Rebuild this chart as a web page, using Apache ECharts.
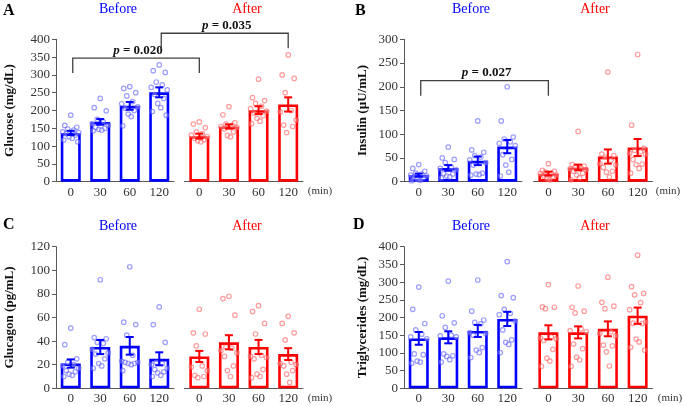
<!DOCTYPE html>
<html>
<head>
<meta charset="utf-8">
<script src="https://cdn.jsdelivr.net/npm/echarts/dist/echarts.min.js"></script>
<style>
  html, body { margin: 0; padding: 0; background: #fff; }
  #chart { width: 685px; height: 406px; }
</style>
</head>
<body>
<div id="chart"></div>
<script>
const times = ['0', '30', '60', '120'];

// Glucose (mg/dL)
const gluBeforeMean = [137, 168, 213, 251];
const gluBeforeSem = [6, 8, 11, 14];
const gluAfterMean = [128, 155, 201, 217];
const gluAfterSem = [7, 6, 11, 20];
const gluBeforePts = [
  [187, 158, 153, 148, 145, 140, 138, 135, 131, 126, 122, 117, 112],
  [234, 208, 199, 175, 168, 163, 158, 153, 150, 147, 145, 143],
  [267, 262, 250, 241, 225, 219, 210, 206, 200, 190, 183, 157],
  [328, 312, 307, 280, 272, 265, 258, 245, 234, 220, 208, 197, 187]
];
const gluAfterPts = [
  [168, 162, 152, 140, 135, 131, 127, 122, 118, 115, 112],
  [211, 188, 165, 162, 158, 155, 152, 148, 140, 130, 126],
  [288, 236, 228, 220, 212, 205, 198, 193, 185, 178, 170, 163],
  [356, 300, 290, 250, 200, 196, 173, 159, 155, 138]
];

// Insulin (µU/mL)
const insBeforeMean = [14, 29, 44, 74];
const insBeforeSem = [3, 6, 9, 14];
const insAfterMean = [17, 30, 53, 72];
const insAfterSem = [4, 6, 15, 18];
const insBeforePts = [
  [36, 28, 22, 18, 16, 14, 12, 10, 8, 5, 3, 2],
  [73, 50, 47, 40, 30, 28, 25, 17, 16, 12, 10, 8],
  [128, 67, 62, 55, 52, 46, 40, 35, 18, 16, 15, 14],
  [200, 128, 94, 90, 84, 81, 76, 57, 47, 35, 20, 12]
];
const insAfterPts = [
  [38, 24, 22, 20, 18, 17, 14, 12, 10, 6, 4],
  [106, 36, 33, 30, 28, 27, 25, 22, 18, 14, 8, 4],
  [231, 58, 55, 52, 45, 38, 35, 30, 22, 20, 10],
  [268, 119, 70, 66, 63, 60, 58, 47, 37, 36, 28, 18]
];

// Glucagon (pg/mL)
const gcgBeforeMean = [21, 35, 36, 25];
const gcgBeforeSem = [3.5, 6, 7.5, 5.5];
const gcgAfterMean = [27, 39, 35, 29];
const gcgAfterSem = [4.7, 6, 6, 5];
const gcgBeforePts = [
  [51, 37, 25, 22, 20, 19, 17, 15, 14, 12, 11, 10],
  [92, 43, 42, 39, 38, 33, 30, 29, 25, 21, 19, 17],
  [103, 56, 54, 45, 28, 23, 22, 22, 21, 21, 20, 15],
  [69, 54, 39, 22, 21, 20, 17, 16, 14, 13, 11, 10]
];
const gcgAfterPts = [
  [67, 47, 46, 36, 19, 18, 15, 11, 10, 9],
  [78, 76, 62, 35, 34, 32, 30, 27, 19, 15, 10],
  [70, 65, 55, 46, 28, 27, 26, 25, 16, 12, 10, 9],
  [61, 55, 47, 41, 22, 21, 20, 19, 15, 12, 5]
];

// Triglycerides (mg/dL)
const tgBeforeMean = [141, 144, 162, 196];
const tgBeforeSem = [18, 17, 17, 20];
const tgAfterMean = [158, 158, 168, 205];
const tgAfterSem = [20, 17, 21, 23];
const tgBeforePts = [
  [286, 223, 183, 165, 153, 145, 140, 97, 95, 77, 74, 71],
  [303, 205, 185, 172, 150, 148, 145, 97, 92, 90, 81, 74],
  [306, 218, 193, 186, 182, 157, 155, 150, 115, 108, 101, 87],
  [358, 262, 256, 223, 212, 208, 190, 165, 137, 130, 124, 101]
];
const tgAfterPts = [
  [293, 230, 229, 225, 145, 142, 140, 135, 110, 85, 77, 62],
  [289, 229, 218, 213, 168, 163, 160, 125, 112, 88, 80, 62],
  [314, 243, 232, 225, 160, 155, 148, 122, 120, 103, 63],
  [376, 287, 268, 264, 242, 222, 187, 184, 183, 139, 131, 116, 108]
];

// significance brackets: [panel, category, top value, left leg end, right leg end, p]
const brackets = [
  [0, 0, 347, 305, 305, '0.020'],
  [0, 3, 417, 373, 375, '0.035'],
  [1, 0, 213, 181, 181, '0.027']
];

const SERIF = '"Liberation Serif", "Times New Roman", serif';
const BLUE = '#0000ff';
const RED = '#ff0000';
const AXIS = '#595959';
const TXT = '#333';

const panels = [
  { letter: 'A', name: 'Glucose (mg/dL)', max: 400, interval: 50,
    data: [[gluBeforeMean, gluBeforeSem, gluBeforePts], [gluAfterMean, gluAfterSem, gluAfterPts]],
    top: 39.3, height: 142.4, lefts: [56, 184.5], widths: [118, 118.5], nameGap: 40,
    letterPos: [3, 11], heads: [[118, 9], [247, 9]], minPos: [320, 191] },
  { letter: 'B', name: 'Insulin (µU/mL)', max: 300, interval: 50,
    data: [[insBeforeMean, insBeforeSem, insBeforePts], [insAfterMean, insAfterSem, insAfterPts]],
    top: 39.3, height: 142.4, lefts: [404, 533.5], widths: [118, 119], nameGap: 35,
    letterPos: [355, 11], heads: [[471, 9], [595, 9]], minPos: [668, 191] },
  { letter: 'C', name: 'Glucagon (pg/mL)', max: 120, interval: 20,
    data: [[gcgBeforeMean, gcgBeforeSem, gcgBeforePts], [gcgAfterMean, gcgAfterSem, gcgAfterPts]],
    top: 246.7, height: 141.6, lefts: [56, 184.5], widths: [118, 118.5], nameGap: 40,
    letterPos: [3, 225], heads: [[118, 226], [247, 226]], minPos: [320, 398] },
  { letter: 'D', name: 'Triglycerides (mg/dL)', max: 400, interval: 50,
    data: [[tgBeforeMean, tgBeforeSem, tgBeforePts], [tgAfterMean, tgAfterSem, tgAfterPts]],
    top: 246.7, height: 141.6, lefts: [404, 533.5], widths: [118, 119], nameGap: 35,
    letterPos: [353, 225], heads: [[471, 226], [595, 226]], minPos: [670, 398] }
];

// horizontal spread of dots inside a group (px), by rank
const spread = [0, -6, 6, -3, 3, -8, 8, -4.5, 4.5, -1.5, 1.5, -7, 7];

let grids = [], xAxes = [], yAxes = [], series = [];

panels.forEach((p, k) => {
  [0, 1].forEach((s) => {
    const gi = k * 2 + s;
    const col = s === 0 ? BLUE : RED;
    const dot = s === 0 ? 'rgba(80,80,255,0.7)' : 'rgba(255,80,80,0.7)';
    const [mean, sem, pts] = p.data[s];
    grids.push({ left: p.lefts[s], top: p.top, width: p.widths[s], height: p.height });
    xAxes.push({
      type: 'category', gridIndex: gi, data: times,
      axisLine: { lineStyle: { color: AXIS, width: 1 } },
      axisTick: { length: 5, lineStyle: { color: AXIS } },
      axisLabel: { fontFamily: SERIF, fontSize: 13, color: TXT, margin: 4 }
    });
    yAxes.push({
      type: 'value', gridIndex: gi, min: 0, max: p.max, interval: p.interval,
      name: s === 0 ? p.name : '',
      nameLocation: 'middle', nameGap: p.nameGap,
      nameTextStyle: { fontFamily: SERIF, fontSize: 13, fontWeight: 'bold', color: '#111' },
      axisLine: { show: s === 0, lineStyle: { color: AXIS, width: 1 } },
      axisTick: { show: s === 0, length: 4, lineStyle: { color: AXIS } },
      axisLabel: { show: s === 0, fontFamily: SERIF, fontSize: 13, color: TXT, margin: 6 },
      splitLine: { show: false }
    });
    series.push({
      type: 'bar', xAxisIndex: gi, yAxisIndex: gi, data: mean, barWidth: 20,
      itemStyle: { color: '#fff', borderColor: col, borderWidth: 2.6 },
      silent: true, z: 2
    });
    let dots = [];
    pts.forEach((arr, i) => {
      arr.forEach((v, j) => {
        dots.push({ value: [i, v], symbolOffset: [spread[j % spread.length], 0] });
      });
    });
    series.push({
      type: 'scatter', xAxisIndex: gi, yAxisIndex: gi, data: dots,
      symbol: 'circle', symbolSize: 4.5,
      itemStyle: { color: 'rgba(255,255,255,0.4)', borderColor: dot, borderWidth: 1.2 },
      silent: true, z: 3
    });
    series.push({
      type: 'custom', xAxisIndex: gi, yAxisIndex: gi,
      data: mean.map((m, i) => [i, m, sem[i]]),
      encode: { x: 0, y: 1 },
      renderItem: function (params, api) {
        const x = api.value(0), m = api.value(1), e = api.value(2);
        const hi = api.coord([x, m + e]);
        const lo = api.coord([x, m - e]);
        const w = 4;
        const st = { stroke: col, lineWidth: 2 };
        return { type: 'group', children: [
          { type: 'line', shape: { x1: hi[0], y1: hi[1], x2: lo[0], y2: lo[1] }, style: st },
          { type: 'line', shape: { x1: hi[0] - w, y1: hi[1], x2: hi[0] + w, y2: hi[1] }, style: st },
          { type: 'line', shape: { x1: lo[0] - w, y1: lo[1], x2: lo[0] + w, y2: lo[1] }, style: st }
        ] };
      },
      silent: true, z: 4
    });
  });
});

const chart = echarts.init(document.getElementById('chart'), null, { renderer: 'canvas' });
chart.setOption({
  animation: false,
  backgroundColor: '#fff',
  grid: grids, xAxis: xAxes, yAxis: yAxes, series: series
});

// annotations
let graphic = [];
panels.forEach((p) => {
  graphic.push({ type: 'text', x: p.letterPos[0], y: p.letterPos[1],
    style: { text: p.letter, font: 'bold 16px ' + SERIF, fill: '#000', textVerticalAlign: 'middle' } });
  graphic.push({ type: 'text', x: p.heads[0][0], y: p.heads[0][1],
    style: { text: 'Before', font: '14px ' + SERIF, fill: BLUE, textAlign: 'center', textVerticalAlign: 'middle' } });
  graphic.push({ type: 'text', x: p.heads[1][0], y: p.heads[1][1],
    style: { text: 'After', font: '14px ' + SERIF, fill: RED, textAlign: 'center', textVerticalAlign: 'middle' } });
  graphic.push({ type: 'text', x: p.minPos[0], y: p.minPos[1],
    style: { text: '(min)', font: '11px ' + SERIF, fill: TXT, textAlign: 'center', textVerticalAlign: 'middle' } });
});

brackets.forEach(([k, cat, top, legL, legR, pv]) => {
  const g0 = k * 2, g1 = k * 2 + 1;
  const a = chart.convertToPixel({ xAxisIndex: g0, yAxisIndex: g0 }, [cat, top]);
  const aL = chart.convertToPixel({ xAxisIndex: g0, yAxisIndex: g0 }, [cat, legL]);
  const b = chart.convertToPixel({ xAxisIndex: g1, yAxisIndex: g1 }, [cat, top]);
  const bL = chart.convertToPixel({ xAxisIndex: g1, yAxisIndex: g1 }, [cat, legR]);
  graphic.push({ type: 'polyline',
    shape: { points: [[aL[0] + 2, aL[1]], [a[0] + 2, a[1]], [b[0], b[1]], [bL[0], bL[1]]] },
    style: { stroke: '#404040', lineWidth: 1.3, fill: null } });
  graphic.push({ type: 'text', x: (a[0] + b[0]) / 2 + 3, y: a[1] - 1,
    style: {
      text: '{i|p}{b| = ' + pv + '}',
      textAlign: 'center', textVerticalAlign: 'bottom',
      rich: {
        i: { font: 'italic bold 13px ' + SERIF, fill: '#111' },
        b: { font: 'bold 13px ' + SERIF, fill: '#111' }
      }
    } });
});

chart.setOption({ graphic: graphic });
</script>
</body>
</html>
